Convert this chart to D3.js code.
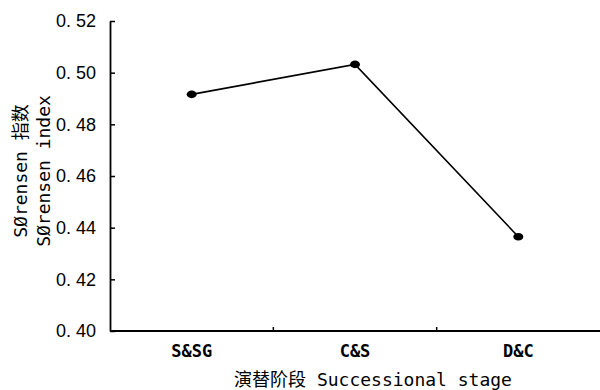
<!DOCTYPE html>
<html>
<head>
<meta charset="utf-8">
<script src="https://cdn.jsdelivr.net/npm/d3@7"></script>
<style>
  html, body { margin: 0; padding: 0; background: #fff; }
  svg { display: block; }
</style>
</head>
<body>
<svg id="chart" width="600" height="390"></svg>
<script>
// Sørensen similarity index across successional stages
const stages = ["S&SG", "C&S", "D&C"];
const sorensen = [0.4916, 0.5032, 0.4365];
const yTicks = [0.40, 0.42, 0.44, 0.46, 0.48, 0.50, 0.52];
const yTitleLines = ["SØrensen 指数", "SØrensen index"];
const xTitle = "演替阶段 Successional stage";

const svg = d3.select("#chart");
const margin = { left: 110, right: 0, top: 21, bottom: 59 };
const W = 600, H = 390;

const x = d3.scaleBand().domain(stages).range([margin.left, W - margin.right]);
const y = d3.scaleLinear().domain([0.40, 0.52]).range([H - margin.bottom, margin.top]);

const monoFont = "'DejaVu Sans Mono', 'Noto Sans CJK SC', monospace";

// y axis with inward ticks
const yAxis = svg.append("g")
  .attr("transform", `translate(${margin.left},0)`)
  .call(d3.axisLeft(y).tickValues(yTicks).tickSizeInner(-5).tickSizeOuter(0).tickPadding(14)
    .tickFormat(d => d3.format(".2f")(d).replace(".", ". ")));
yAxis.select(".domain").attr("stroke", "#000").attr("stroke-width", 1.8);
yAxis.selectAll(".tick line").attr("stroke", "#000").attr("stroke-width", 1.5);
yAxis.selectAll(".tick text")
  .attr("fill", "#000")
  .style("font-family", "'Liberation Sans', Arial, sans-serif")
  .style("font-size", "18px");

// x axis: separators between stages point inward
const xAxisG = svg.append("g").attr("transform", `translate(0,${y(0.40)})`);
xAxisG.append("line")
  .attr("x1", margin.left).attr("x2", W - margin.right)
  .attr("stroke", "#000").attr("stroke-width", 1.8);
xAxisG.selectAll("line.sep")
  .data(stages.slice(1))
  .join("line")
  .attr("class", "sep")
  .attr("x1", d => x(d)).attr("x2", d => x(d))
  .attr("y1", 0).attr("y2", -4)
  .attr("stroke", "#000").attr("stroke-width", 1.5);
xAxisG.selectAll("text.cat")
  .data(stages)
  .join("text")
  .attr("class", "cat")
  .attr("x", d => x(d) + x.bandwidth() / 2)
  .attr("y", 26)
  .attr("text-anchor", "middle")
  .style("font-family", monoFont)
  .style("font-size", "17px")
  .style("font-weight", "bold")
  .attr("fill", "#000")
  .text(d => d);

// axis titles
svg.append("text")
  .attr("x", 373).attr("y", 386)
  .attr("text-anchor", "middle")
  .style("font-family", monoFont)
  .style("font-size", "18px")
  .attr("fill", "#000")
  .text(xTitle);

svg.append("g")
  .attr("transform", "translate(0,171) rotate(-90)")
  .selectAll("text")
  .data(yTitleLines)
  .join("text")
  .attr("x", 0)
  .attr("y", (d, i) => 27 + i * 23)
  .attr("text-anchor", "middle")
  .style("font-family", monoFont)
  .style("font-size", "18px")
  .attr("fill", "#000")
  .text(d => d);

// line and markers
const pts = stages.map((s, i) => ({ s, v: sorensen[i] }));
svg.append("path")
  .datum(pts)
  .attr("fill", "none")
  .attr("stroke", "#000")
  .attr("stroke-width", 1.6)
  .attr("d", d3.line().x(d => x(d.s) + x.bandwidth() / 2).y(d => y(d.v)));

svg.selectAll("ellipse.pt")
  .data(pts)
  .join("ellipse")
  .attr("class", "pt")
  .attr("cx", d => x(d.s) + x.bandwidth() / 2)
  .attr("cy", d => y(d.v))
  .attr("rx", 5).attr("ry", 3.8)
  .attr("fill", "#000");
</script>
</body>
</html>
